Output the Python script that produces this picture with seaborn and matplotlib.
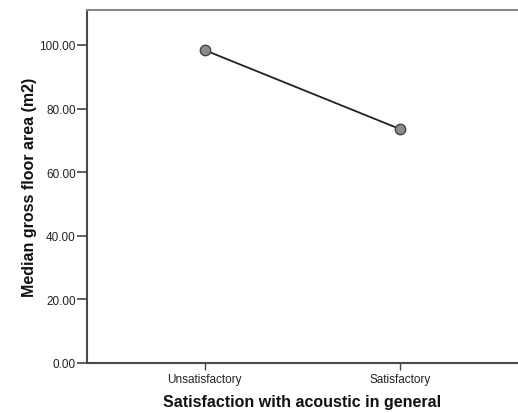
import matplotlib
matplotlib.use("Agg")
import matplotlib.pyplot as plt
import seaborn as sns
import pandas as pd

categories = ["Unsatisfactory", "Satisfactory"]
median_area = [98.4, 73.5]
y_ticks = [0, 20, 40, 60, 80, 100]

sns.set_style("white")
plt.rcParams["font.family"] = ["Liberation Sans", "DejaVu Sans"]

df = pd.DataFrame({"group": categories, "area": median_area})

fig = plt.figure(figsize=(5.18, 4.14), dpi=100)
ax = fig.add_axes([87 / 518, 1 - 364 / 414, (518 - 87) / 518, (364 - 11) / 414])

sns.lineplot(data=df, x="group", y="area", ax=ax, color="#222222", linewidth=1.3,
             marker="o", markersize=7.5, markerfacecolor="#8c8c8c",
             markeredgecolor="#444444", markeredgewidth=1.0, sort=False)

ax.set_xlim(-0.6, 1.6)
ax.set_ylim(0, 111)
ax.set_yticks(y_ticks)
ax.set_yticklabels([f"{v:.2f}" for v in y_ticks])
ax.set_xticks(range(len(categories)))
ax.set_xticklabels(categories)

ax.tick_params(axis="y", direction="out", length=7, width=1.2, color="#444444",
               labelsize=8.5, labelcolor="#222222", pad=1, left=True)
ax.tick_params(axis="x", direction="out", length=5, width=1.0, color="#444444",
               labelsize=8.5, labelcolor="#222222", pad=2.5, bottom=True)

for side in ["left", "bottom"]:
    ax.spines[side].set_color("#4a4a4a")
    ax.spines[side].set_linewidth(1.5)
ax.spines["top"].set_color("#8a8a8a")
ax.spines["top"].set_linewidth(1.5)
ax.spines["right"].set_visible(False)

ax.set_xlabel("Satisfaction with acoustic in general", fontsize=11.5, fontweight="bold",
              color="#111111", labelpad=6)
ax.set_ylabel("Median gross floor area (m2)", fontsize=11.5, fontweight="bold",
              color="#111111", labelpad=2)

fig.savefig("out.png", dpi=100)
